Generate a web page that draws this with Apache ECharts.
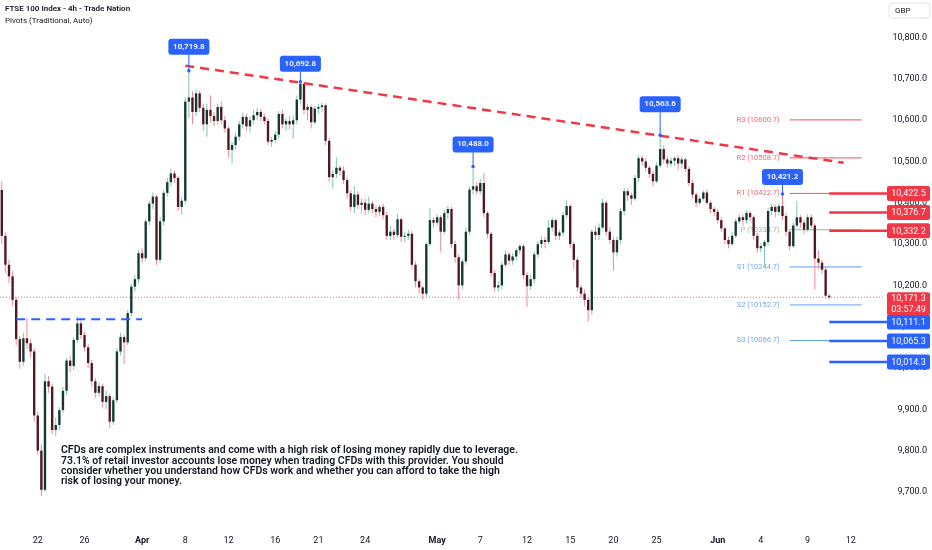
<!DOCTYPE html>
<html><head><meta charset="utf-8">
<script src="https://cdn.jsdelivr.net/npm/echarts@6/dist/echarts.min.js"></script>
<style>html,body{margin:0;padding:0;background:#fff;}#c{width:932px;height:550px;}</style>
</head><body><div id="c"></div>
<script>
// ---- data ----
// each candle: [open, close, low, high]
const candles = [
[10431,10320,10300,10452],[10320,10250,10230,10330],[10250,10222,10205,10262],[10222,10165,10150,10235],
[10165,10070,10055,10172],[10070,10015,9998,10078],[10015,10072,10005,10085],[10072,10060,10045,10121],
[10060,10040,10025,10070],[10040,9885,9870,10048],[9885,9800,9790,9895],[9800,9705,9690,9815],
[9705,9968,9700,9986],[9968,9955,9940,9980],[9955,9850,9840,9962],[9850,9862,9835,9880],
[9862,9898,9850,9905],[9898,9945,9890,9955],[9945,10018,9935,10025],[10018,10005,9990,10030],
[10005,10068,9995,10075],[10068,10108,10060,10124],[10108,10080,10070,10115],[10080,10050,10040,10088],
[10050,10012,10000,10058],[10012,9968,9955,10020],[9968,9940,9928,9975],[9940,9956,9932,9965],
[9956,9918,9905,9962],[9918,9932,9900,9945],[9932,9870,9855,9938],[9870,9922,9862,9930],
[9922,10040,9915,10048],[10040,10075,10030,10085],[10075,10062,10010,10080],[10062,10133,10055,10140],
[10133,10197,10125,10205],[10197,10215,10185,10225],[10215,10278,10205,10285],[10278,10266,10255,10290],
[10266,10355,10260,10362],[10355,10398,10345,10405],[10398,10415,10385,10425],[10415,10262,10250,10420],
[10262,10355,10255,10365],[10355,10424,10345,10430],[10424,10450,10415,10460],[10450,10471,10440,10482],
[10471,10460,10448,10478],[10460,10390,10380,10466],[10390,10405,10372,10415],[10405,10645,10398,10655],
[10645,10655,10605,10719.8],[10655,10620,10590,10670],[10620,10665,10610,10675],[10665,10630,10620,10672],
[10630,10590,10575,10640],[10590,10625,10560,10640],[10625,10610,10595,10660],[10610,10598,10585,10620],
[10598,10632,10590,10640],[10632,10600,10590,10645],[10600,10580,10570,10610],[10580,10528,10510,10585],
[10528,10540,10495,10548],[10540,10560,10530,10570],[10560,10590,10550,10598],[10590,10608,10580,10618],
[10608,10585,10575,10615],[10585,10600,10570,10610],[10600,10612,10590,10625],[10612,10620,10600,10630],
[10620,10608,10598,10628],[10608,10598,10590,10615],[10598,10548,10540,10605],[10548,10552,10535,10560],
[10552,10565,10545,10575],[10565,10615,10555,10622],[10615,10590,10580,10625],[10590,10598,10575,10605],
[10598,10590,10578,10610],[10590,10600,10555,10612],[10600,10650,10590,10660],[10650,10688,10640,10692.8],
[10688,10625,10615,10692],[10625,10632,10600,10640],[10632,10595,10580,10638],[10595,10628,10590,10635],
[10628,10632,10615,10640],[10632,10636,10620,10642],[10636,10550,10540,10640],[10550,10462,10450,10558],
[10462,10470,10435,10480],[10470,10485,10460,10510],[10485,10478,10465,10490],[10478,10455,10445,10488],
[10455,10423,10410,10462],[10423,10390,10380,10430],[10390,10420,10375,10440],[10420,10395,10385,10428],
[10395,10400,10375,10410],[10400,10383,10370,10410],[10383,10398,10375,10415],[10398,10385,10375,10405],
[10385,10378,10365,10392],[10378,10390,10368,10395],[10390,10370,10360,10398],[10370,10320,10310,10378],
[10320,10330,10310,10345],[10330,10322,10310,10338],[10322,10360,10315,10372],[10360,10318,10305,10365],
[10318,10320,10305,10330],[10320,10325,10310,10335],[10325,10250,10240,10332],[10250,10210,10195,10258],
[10210,10195,10180,10215],[10195,10180,10165,10200],[10180,10300,10170,10305],[10300,10358,10295,10387],
[10358,10352,10340,10365],[10352,10365,10345,10372],[10365,10330,10282,10370],[10330,10375,10325,10382],
[10375,10385,10360,10392],[10385,10300,10290,10390],[10300,10268,10255,10308],[10268,10200,10165,10275],
[10200,10258,10190,10265],[10258,10330,10250,10340],[10330,10432,10322,10440],[10432,10440,10420,10488],
[10440,10428,10420,10450],[10428,10448,10420,10458],[10448,10375,10365,10472],[10375,10325,10315,10380],
[10325,10230,10220,10330],[10230,10195,10185,10238],[10195,10200,10185,10210],[10200,10250,10190,10258],
[10250,10275,10245,10285],[10275,10260,10250,10280],[10260,10270,10250,10278],[10270,10285,10260,10290],
[10285,10295,10275,10300],[10295,10225,10215,10300],[10225,10198,10148,10232],[10198,10215,10190,10225],
[10215,10275,10205,10282],[10275,10300,10268,10308],[10300,10310,10290,10320],[10310,10305,10290,10318],
[10305,10340,10300,10359],[10340,10358,10330,10365],[10358,10320,10310,10362],[10320,10328,10310,10335],
[10328,10370,10320,10378],[10370,10392,10362,10405],[10392,10300,10290,10398],[10300,10262,10240,10305],
[10262,10195,10185,10268],[10195,10180,10170,10200],[10180,10165,10150,10190],[10165,10140,10112,10170],
[10140,10330,10130,10335],[10330,10322,10310,10345],[10322,10340,10310,10350],[10340,10400,10335,10410],
[10400,10330,10320,10405],[10330,10310,10300,10340],[10310,10280,10235,10318],[10280,10310,10270,10318],
[10310,10380,10300,10388],[10380,10428,10370,10436],[10428,10418,10405,10435],[10418,10410,10395,10425],
[10410,10460,10405,10468],[10460,10508,10450,10515],[10508,10500,10490,10515],[10500,10485,10475,10508],
[10485,10470,10460,10490],[10470,10452,10440,10478],[10452,10490,10448,10498],[10490,10530,10485,10563.6],
[10530,10505,10495,10540],[10505,10495,10485,10512],[10495,10502,10488,10510],[10502,10508,10490,10512],
[10508,10495,10480,10515],[10495,10505,10485,10512],[10505,10482,10475,10510],[10482,10448,10440,10488],
[10448,10420,10410,10455],[10420,10400,10390,10425],[10400,10410,10395,10415],[10410,10425,10405,10430],
[10425,10400,10395,10432],[10400,10385,10375,10405],[10385,10378,10368,10390],[10378,10358,10350,10385],
[10358,10338,10330,10365],[10338,10310,10300,10342],[10310,10300,10290,10318],[10300,10320,10295,10330],
[10320,10355,10315,10362],[10355,10365,10348,10372],[10365,10358,10345,10372],[10358,10375,10350,10382],
[10375,10365,10355,10380],[10365,10320,10310,10370],[10320,10290,10280,10328],[10290,10295,10280,10302],
[10295,10305,10245,10310],[10305,10380,10298,10388],[10380,10390,10370,10398],[10390,10378,10365,10395],
[10378,10392,10370,10398],[10392,10368,10358,10421.2],[10368,10330,10320,10375],[10330,10295,10285,10336],
[10295,10345,10290,10352],[10345,10365,10340,10405],[10365,10352,10340,10370],[10352,10335,10325,10358],
[10335,10365,10330,10372],[10365,10345,10338,10372],[10345,10265,10190,10350],[10265,10255,10240,10285],
[10255,10238,10228,10262],[10238,10175,10168,10245],[10175,10171.3,10166,10180]
];
const totalBars = 246;
const tickLabels = ['22','26','Apr','8','12','16','21','24','May','7','12','15','20','25','Jun','4','9','12'];
const tickBars   = [10,23,39,51,63,76,88,101,121,133,146,158,170,182,199,211,224,236];
const monthLabels = ['Apr','May','Jun'];
const pivotNames  = ['R3','R2','R1','P','S1','S2','S3'];
const pivotValues = [10600.7,10508.7,10422.7,10334.7,10244.7,10152.7,10066.7];
const pivotFromBar = 219, pivotToBar = 239;
const resistanceLevels = [10422.5,10376.7,10332.2];
const supportLevels = [10111.1,10065.3,10014.3];
const levelFromBar = 230;
const lastPrice = 10171.3;
const countdown = '03:57:49';
const trendStart = [51,10732], trendEnd = [234,10497];
const rangeLevel = 10118, rangeFromBar = 4, rangeToBar = 39;
const calloutBars = [52,83,131,183,217];
const titleText = 'FTSE 100 Index - 4h - Trade Nation';
const subtitleText = 'Pivots (Traditional, Auto)';
const currencyText = 'GBP';
const disclaimer = 'CFDs are complex instruments and come with a high risk of losing money rapidly due to leverage.\n73.1% of retail investor accounts lose money when trading CFDs with this provider. You should\nconsider whether you understand how CFDs work and whether you can afford to take the high\nrisk of losing your money.';

// ---- styling / layout ----
const FONT = 'Roboto, "Noto Sans", sans-serif';
const TXT = '#131722';
const RED = '#f23645', BLUE = '#2962ff';
const upBody = '#123a31', upWick = '#7cc6b0', dnBody = '#4f1822', dnWick = '#ee8a94';
const calloutGap = [16,10,14,23,9];
const pivotColor = {R:'#f7525f', P:'#81c784', S:'#5b9cf6'};

const fmt = v => v.toLocaleString('en-US',{minimumFractionDigits:1,maximumFractionDigits:1});
const labelAt = {};
tickBars.forEach((b,k)=>{labelAt[b]=tickLabels[k];});
const cats = Array.from({length: totalBars}, (_, i) => String(i));
const seriesData = candles.map((c,i)=>[i, c[0], c[1], c[2], c[3]]);

const chart = echarts.init(document.getElementById('c'), null, {renderer:'canvas', width:932, height:550});

chart.setOption({
  animation:false,
  backgroundColor:'#ffffff',
  textStyle:{fontFamily:FONT},
  grid:{left:0, right:47, top:0, bottom:30, outerBoundsMode:'none', containLabel:false},
  xAxis:{
    type:'category', data:cats, boundaryGap:true,
    axisLine:{show:false}, axisTick:{show:false}, splitLine:{show:false},
    axisLabel:{
      interval:(idx)=> labelAt[idx] !== undefined,
      formatter:(v, idx)=>{ const t = labelAt[idx]; if(t===undefined) return ''; return monthLabels.includes(t) ? '{b|'+t+'}' : t; },
      margin:16, fontSize:9, color:TXT, fontFamily:FONT,
      rich:{b:{fontWeight:'bold', fontSize:9, color:TXT, fontFamily:FONT}}
    }
  },
  yAxis:{
    type:'value', position:'right', min:9632, max:10891, splitNumber:12, scale:true,
    axisLine:{show:false}, axisTick:{show:false}, splitLine:{show:false},
    axisLabel:{formatter:v=>fmt(v), fontSize:9, color:TXT, align:'right', margin:42,
      showMinLabel:false, showMaxLabel:false, fontFamily:FONT}
  },
  series:[{
    type:'custom', z:3,
    data:seriesData,
    encode:{x:0, y:[1,2,3,4]},
    renderItem:(params, api)=>{
      const i = api.value(0), o = api.value(1), c = api.value(2), l = api.value(3), h = api.value(4);
      const pO = api.coord([i,o]), pC = api.coord([i,c]), pL = api.coord([i,l]), pH = api.coord([i,h]);
      const bw = api.size([1,0])[0]*0.66;
      const up = c >= o;
      const top = Math.min(pO[1], pC[1]);
      const hgt = Math.max(1, Math.abs(pO[1]-pC[1]));
      return {type:'group', children:[
        {type:'line', shape:{x1:pH[0], y1:pH[1], x2:pL[0], y2:pL[1]}, style:{stroke: up?upWick:dnWick, lineWidth:1}},
        {type:'rect', shape:{x:pO[0]-bw/2, y:top, width:bw, height:hgt}, style:{fill: up?upBody:dnBody}}
      ]};
    }
  }]
});

const P = (i, v) => chart.convertToPixel({gridIndex:0}, [i, v]);
const g = [];
const rightEdge = 932 - 47;

// title
g.push({type:'text', left:5, top:5, z:30, style:{text:titleText, font:'600 8px '+FONT, fill:TXT}});
g.push({type:'text', left:5, top:16.5, z:30, style:{text:subtitleText, font:'8px '+FONT, fill:TXT}});
// currency box
g.push({type:'rect', shape:{x:889, y:3, width:41, height:15, r:3}, z:30, style:{fill:'#fff', stroke:'#e0e3eb', lineWidth:1}});
g.push({type:'text', x:895, y:10.5, z:31, style:{text:currencyText, font:'8px '+FONT, fill:TXT, textVerticalAlign:'middle'}});

// current price dotted line
{
  const py = P(0, lastPrice)[1];
  g.push({type:'line', z:1, shape:{x1:0, y1:py, x2:rightEdge, y2:py}, style:{stroke:RED, lineWidth:1, lineDash:[1,2], opacity:0.75}});
}

// pivots
pivotNames.forEach((n,k)=>{
  const a = P(pivotFromBar, pivotValues[k]), b = P(pivotToBar, pivotValues[k]);
  const col = pivotColor[n[0]];
  g.push({type:'line', z:1, shape:{x1:a[0], y1:a[1], x2:b[0], y2:b[1]}, style:{stroke:col, lineWidth:1}});
  g.push({type:'text', z:1, x:a[0]-10, y:a[1], style:{text:n+' ('+pivotValues[k].toFixed(1)+')', font:'7.5px '+FONT, fill:col, align:'right', verticalAlign:'middle', opacity:0.9}});
});

// trend line
{
  const a = P(trendStart[0], trendStart[1]), b = P(trendEnd[0], trendEnd[1]);
  g.push({type:'line', z:10, shape:{x1:a[0], y1:a[1], x2:b[0], y2:b[1]}, style:{stroke:RED, lineWidth:2.5, lineDash:[9,6]}});
}
// range line
{
  const a = P(rangeFromBar, rangeLevel), b = P(rangeToBar, rangeLevel);
  g.push({type:'line', z:10, shape:{x1:a[0], y1:a[1], x2:b[0], y2:b[1]}, style:{stroke:BLUE, lineWidth:2, lineDash:[9,6]}});
}

// level lines + tags
function tag(v, color){
  const a = P(levelFromBar, v);
  g.push({type:'line', z:10, shape:{x1:a[0], y1:a[1], x2:887, y2:a[1]}, style:{stroke:color, lineWidth:2.5}});
  g.push({type:'rect', z:20, shape:{x:887, y:a[1]-7.5, width:43, height:15, r:2}, style:{fill:color}});
  g.push({type:'text', z:21, x:908.5, y:a[1]+0.5, style:{text:fmt(v), font:'9px '+FONT, fill:'#fff', align:'center', verticalAlign:'middle'}});
}
resistanceLevels.forEach(v=>tag(v, RED));
supportLevels.forEach(v=>tag(v, BLUE));
// last price tag
{
  const py = P(0, lastPrice)[1];
  g.push({type:'rect', z:20, shape:{x:887, y:py-5, width:43, height:23, r:2}, style:{fill:RED}});
  g.push({type:'text', z:21, x:908.5, y:py+1.5, style:{text:fmt(lastPrice), font:'9px '+FONT, fill:'#fff', align:'center', verticalAlign:'middle'}});
  g.push({type:'text', z:21, x:908.5, y:py+12, style:{text:countdown, font:'9px '+FONT, fill:'#fff', align:'center', verticalAlign:'middle'}});
}

// callouts on highs
calloutBars.forEach((b,k)=>{
  const h = candles[b][3];
  const p = P(b, h);
  const bottom = p[1]-calloutGap[k];
  g.push({type:'line', z:19, shape:{x1:p[0], y1:bottom, x2:p[0], y2:p[1]}, style:{stroke:BLUE, lineWidth:1}});
  g.push({type:'circle', z:19, shape:{cx:p[0], cy:p[1], r:1.8}, style:{fill:BLUE}});
  g.push({type:'rect', z:20, shape:{x:p[0]-20.5, y:bottom-16, width:41, height:16, r:3}, style:{fill:BLUE}});
  g.push({type:'text', z:21, x:p[0], y:bottom-8, style:{text:fmt(h), font:'600 8px '+FONT, fill:'#fff', align:'center', verticalAlign:'middle'}});
});

// disclaimer
g.push({type:'text', z:5, left:61, top:445, style:{text:disclaimer, font:'600 10.5px '+FONT, fill:TXT, lineHeight:10.4}});

chart.setOption({graphic:{elements:g}});
</script></body></html>
